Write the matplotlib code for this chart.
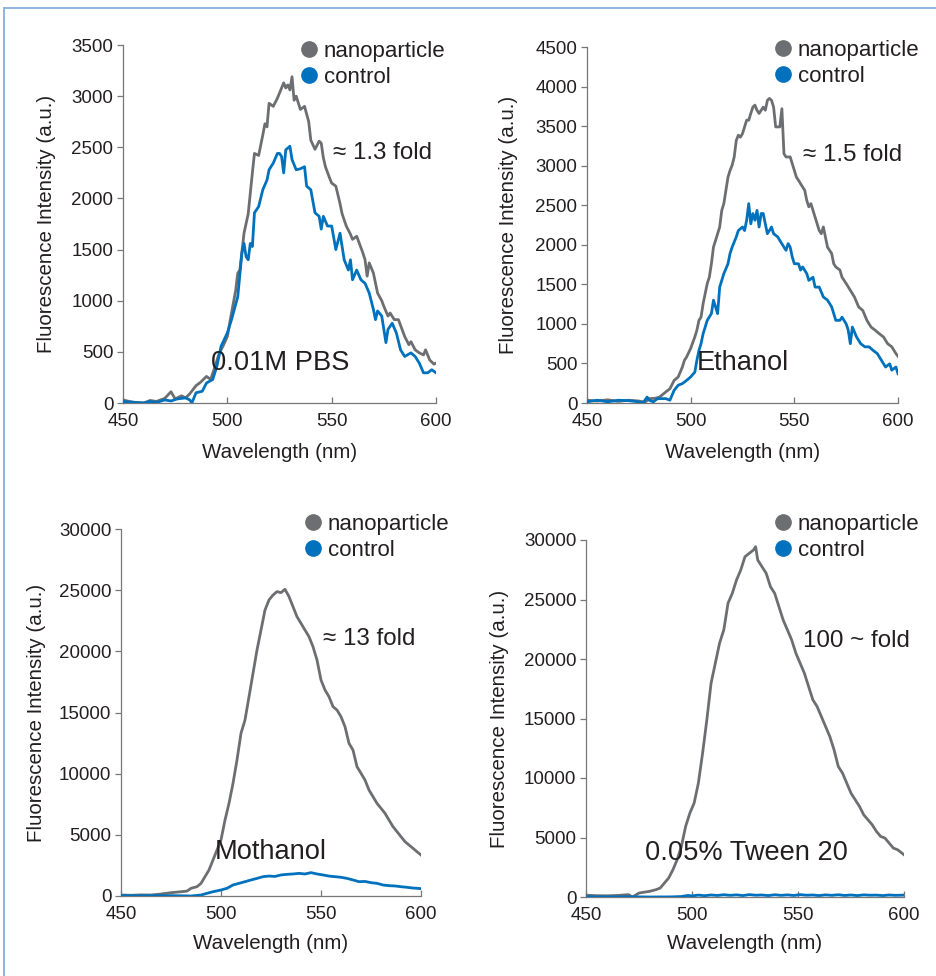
import matplotlib
matplotlib.use("Agg")
import matplotlib.pyplot as plt
from matplotlib.lines import Line2D

plt.rcParams['font.family'] = ['Liberation Sans', 'DejaVu Sans']

# ---------------- data ----------------
# Panel 1: 0.01M PBS
wl_np1 = [450, 453, 456, 460, 463, 466, 470, 473, 475, 478, 480, 482, 485, 487, 490, 492, 494, 496, 498,
          500, 502, 504, 505, 506, 508, 510, 512, 513, 515, 517, 518, 519, 520, 522, 524, 525, 527, 528,
          529, 530, 531, 532, 533, 535, 537, 539, 540, 542, 544, 545, 546, 547, 549, 550, 552, 554, 555,
          557, 559, 560, 562, 564, 565, 566, 567, 568, 570, 572, 574, 575, 577, 578, 580, 582, 583, 585,
          587, 588, 590, 592, 594, 595, 597, 599, 600]
np1 = [30, 15, 5, 0, 25, 15, 45, 110, 40, 70, 50, 90, 170, 200, 260, 230, 350, 480, 560,
       650, 880, 1100, 1270, 1300, 1660, 1850, 2250, 2440, 2420, 2620, 2730, 2700, 2930, 2900, 2980, 3030, 3130, 3080,
       3110, 3060, 3190, 2960, 3000, 2870, 2900, 2750, 2570, 2480, 2560, 2540, 2400, 2310, 2200, 2150, 2120, 1950, 1850,
       1730, 1650, 1600, 1630, 1520, 1465, 1400, 1240, 1370, 1270, 1075, 1000, 945, 850, 880, 815, 815, 760, 650,
       570, 600, 520, 490, 470, 520, 420, 380, 390]
wl_ct1 = [450, 453, 456, 460, 463, 466, 470, 473, 476, 480, 482, 483, 485, 488, 490, 493, 495, 497,
          500, 502, 505, 507, 508, 509, 510, 511, 512, 513, 515, 517, 519, 520, 522, 524, 525, 526, 527,
          528, 530, 531, 533, 535, 537, 538, 540, 542, 544, 545, 546, 548, 550, 552, 554, 556, 558, 559,
          560, 562, 564, 566, 568, 570, 571, 572, 574, 575, 576, 577, 579, 581, 583, 585, 588, 590, 592,
          594, 596, 598, 600]
ct1 = [15, 10, 5, 0, 15, 5, 30, 20, 40, 50, 30, 0, 100, 115, 195, 230, 360, 555,
       685, 815, 1040, 1470, 1560, 1430, 1400, 1560, 1530, 1860, 1920, 2085, 2180, 2280, 2345, 2440, 2440, 2410, 2250,
       2475, 2510, 2380, 2280, 2290, 2310, 2120, 2085, 1860, 1825, 1700, 1825, 1730, 1730, 1500, 1660, 1400, 1300, 1400,
       1205, 1300, 1205, 1170, 1075, 915, 815, 900, 850, 720, 590, 720, 780, 685, 520, 455, 490, 455, 390,
       295, 295, 325, 295]

# Panel 2: Ethanol
wl_np2 = [450, 455, 460, 465, 470, 475, 478, 480, 483, 485, 488, 490, 492, 494, 496, 497, 498, 500, 502,
          503, 504, 505, 506, 508, 509, 510, 511, 512, 513, 514, 515, 516, 518, 519, 520, 521, 522, 523,
          524, 525, 526, 527, 528, 529, 530, 531, 532, 533, 534, 535, 536, 537, 538, 539, 540, 541, 543,
          544, 545, 546, 548, 549, 550, 551, 552, 554, 555, 556, 557, 558, 560, 562, 563, 564, 566, 568,
          569, 570, 572, 573, 575, 577, 579, 581, 583, 585, 587, 589, 591, 593, 595, 597, 599, 600]
np2 = [35, 25, 40, 20, 35, 25, 10, 55, 60, 75, 140, 180, 285, 330, 455, 540, 580, 690, 835,
       920, 1045, 1085, 1255, 1510, 1590, 1760, 1970, 2055, 2140, 2225, 2435, 2520, 2855, 2940, 3005, 3110, 3320, 3385,
       3360, 3405, 3490, 3575, 3575, 3660, 3740, 3765, 3700, 3660, 3700, 3740, 3700, 3825, 3850, 3825, 3740, 3490, 3490,
       3720, 3150, 3110, 3110, 3025, 2940, 2855, 2815, 2730, 2690, 2560, 2480, 2520, 2350, 2180, 2140, 2225, 1970, 1890,
       1760, 1720, 1680, 1590, 1510, 1425, 1340, 1215, 1170, 1045, 960, 920, 875, 835, 750, 710, 625, 590]
wl_ct2 = [450, 455, 460, 465, 470, 475, 477, 479, 480, 482, 484, 486, 488, 490, 492, 494, 496, 498,
          500, 502, 503, 504, 505, 506, 508, 510, 511, 512, 513, 514, 516, 518, 519, 520, 522, 523, 525,
          526, 527, 528, 529, 530, 531, 532, 533, 534, 535, 536, 537, 538, 539, 540, 542, 543, 545, 546,
          547, 548, 549, 550, 552, 553, 554, 556, 557, 559, 560, 562, 564, 566, 568, 570, 572, 573, 575,
          576, 577, 578, 580, 582, 584, 586, 588, 590, 592, 594, 596, 597, 599, 600]
ct2 = [15, 35, 15, 35, 30, 15, 0, 75, 35, 15, 55, 55, 55, 35, 160, 225, 245, 285,
       330, 390, 540, 665, 750, 875, 1045, 1130, 1300, 1215, 1130, 1465, 1635, 1760, 1890, 1970, 2100, 2180, 2225,
       2180, 2310, 2520, 2265, 2395, 2310, 2435, 2225, 2395, 2395, 2265, 2140, 2180, 2225, 2140, 2100, 2055, 1970, 1930,
       2015, 1970, 1845, 1760, 1760, 1680, 1720, 1635, 1550, 1590, 1465, 1465, 1340, 1300, 1215, 1045, 1045, 1085, 1000,
       920, 750, 960, 835, 750, 710, 710, 665, 625, 540, 455, 495, 415, 455, 370]

# Panel 3: Mothanol
wl_np3 = [450, 455, 460, 465, 470, 475, 480, 483, 485, 488, 490, 492, 494, 496, 498, 500, 502, 504, 506,
          508, 510, 512, 514, 516, 518, 520, 522, 524, 526, 528, 530, 532, 534, 536, 538, 540, 542, 544,
          546, 548, 550, 552, 554, 556, 558, 560, 562, 564, 566, 568, 570, 572, 574, 576, 578, 580, 582,
          584, 586, 588, 590, 592, 594, 596, 598, 600]
np3 = [80, 60, 90, 80, 160, 270, 350, 400, 630, 760, 1035, 1580, 2125, 2940, 3760, 4580, 6210, 7575, 9210,
       11120, 13300, 14390, 16290, 18200, 20110, 21740, 23380, 24200, 24600, 24880, 24800, 25070, 24470, 23650, 22830, 22290, 21740, 21200,
       20380, 19290, 17660, 16840, 16290, 15480, 15200, 14660, 13840, 12480, 11930, 10570, 10030, 9480, 8660, 8120, 7575, 7170, 6760,
       6210, 5670, 5260, 4850, 4440, 4170, 3900, 3620, 3350]
wl_ct3 = [450, 460, 470, 480, 485, 490, 493, 496, 500, 503, 506, 509, 512, 515, 518, 521, 524, 527, 530,
          533, 536, 539, 542, 545, 548, 551, 554, 557, 560, 563, 566, 569, 572, 575, 578, 581, 584, 587,
          590, 593, 596, 598, 600]
ct3 = [30, 20, 30, 20, 0, 80, 220, 350, 490, 630, 900, 1035, 1170, 1310, 1440, 1580, 1630, 1600, 1720,
       1770, 1800, 1850, 1800, 1910, 1800, 1720, 1630, 1580, 1530, 1440, 1310, 1170, 1190, 1090, 1035, 900, 845, 820,
       760, 710, 650, 630, 600]

# Panel 4: 0.05% Tween 20
wl_np4 = [450, 455, 460, 465, 470, 472, 475, 480, 483, 485, 487, 489, 491, 493, 495, 497, 499, 501, 503,
          505, 507, 509, 511, 513, 515, 517, 519, 521, 523, 525, 527, 529, 530, 531, 533, 535, 537, 539,
          541, 543, 545, 547, 549, 551, 553, 555, 557, 559, 561, 563, 565, 567, 569, 571, 573, 575, 577,
          579, 581, 583, 585, 587, 589, 591, 593, 595, 597, 599, 600]
np4 = [150, 110, 100, 130, 200, 0, 335, 475, 615, 755, 1175, 1595, 2295, 3135, 4255, 5935, 7050, 7890, 9570,
       12090, 14890, 17970, 19650, 21330, 22450, 24690, 25520, 26640, 27480, 28600, 28880, 29160, 29440, 28320, 27760, 27200, 26080, 25520,
       24400, 23280, 22450, 21610, 20490, 19650, 18810, 17690, 16570, 16010, 15170, 14330, 13490, 12370, 10970, 10410, 9570, 8730, 8170,
       7610, 6910, 6490, 6070, 5510, 5090, 4950, 4530, 4110, 3970, 3690, 3550]
wl_ct4 = [450, 460, 470, 480, 490, 495, 498, 500, 503, 506, 509, 512, 515, 518, 521, 524, 527, 530, 533,
          536, 539, 542, 545, 548, 551, 554, 557, 560, 563, 566, 569, 572, 575, 578, 581, 584, 587, 590,
          593, 596, 600]
ct4 = [20, 10, 20, 0, 10, 40, 130, 90, 160, 110, 170, 130, 190, 140, 180, 120, 200, 150, 170,
       120, 190, 140, 180, 130, 200, 150, 170, 120, 180, 140, 190, 130, 170, 120, 180, 150, 160, 120,
       170, 140, 160]

panel_titles = ["0.01M PBS", "Ethanol", "Mothanol", "0.05% Tween 20"]
fold_labels = ["\u2248 1.3 fold", "\u2248 1.5 fold", "\u2248 13 fold", "100 ~ fold"]
ymax = [3500, 4500, 30000, 30000]
ystep = [500, 500, 5000, 5000]
series_names = ["nanoparticle", "control"]
xticks = [450, 500, 550, 600]

# ---------------- styling ----------------
W, H = 937, 976
GRAY = "#6d6e71"
BLUE = "#0071bc"
TXT = "#231f20"

fig = plt.figure(figsize=(W / 100, H / 100), dpi=100)

# frame
fig.add_artist(Line2D([4 / W, 4 / W], [0, 1 - 8 / H], color="#8db3df", lw=1.4, transform=fig.transFigure))
fig.add_artist(Line2D([4 / W, 1], [1 - 8 / H, 1 - 8 / H], color="#8db3df", lw=1.4, transform=fig.transFigure))

# axes boxes in pixels: left, top, right, bottom
boxes = [(123, 45, 436, 403), (587, 47, 898, 403), (121, 529, 421, 896), (586, 540, 904, 897)]
legend_pos = [(309, 54), (783, 53), (313, 527), (783, 527)]
fold_pos = [(333, 153), (803, 155), (323, 639), (803, 641)]
title_pos = [(211, 363), (697, 363), (215, 852), (645, 853)]
ylabel_x = [45, 507, 35, 498]
xlabel_y = [454, 454, 945, 945]

data = [(wl_np1, np1, wl_ct1, ct1), (wl_np2, np2, wl_ct2, ct2),
        (wl_np3, np3, wl_ct3, ct3), (wl_np4, np4, wl_ct4, ct4)]

for i in range(4):
    l, t, r, b = boxes[i]
    ax = fig.add_axes([l / W, 1 - b / H, (r - l) / W, (b - t) / H])
    wn, yn, wc, yc = data[i]
    ax.plot(wn, yn, color=GRAY, lw=2.0, solid_joinstyle="round", zorder=3)
    ax.plot(wc, yc, color=BLUE, lw=2.0, solid_joinstyle="round", zorder=4)
    ax.set_xlim(450, 600)
    ax.set_ylim(0, ymax[i])
    ax.set_xticks(xticks)
    ax.set_yticks(list(range(0, ymax[i] + 1, ystep[i])))
    for s in ["top", "right"]:
        ax.spines[s].set_visible(False)
    for s in ["left", "bottom"]:
        ax.spines[s].set_color("#777777")
        ax.spines[s].set_linewidth(0.9)
    ax.tick_params(axis="x", direction="in", length=4, width=0.9, color="#777777",
                   labelsize=13.5, labelcolor=TXT, pad=7)
    ax.tick_params(axis="y", direction="out", length=4, width=0.9, color="#777777",
                   labelsize=13.5, labelcolor=TXT, pad=3)
    ax.patch.set_alpha(0)
    ax.set_xlabel("Wavelength (nm)", fontsize=14.8, color=TXT)
    ax.set_ylabel("Fluorescence Intensity (a.u.)", fontsize=14.8, color=TXT)
    xc = (l + r) / 2
    ax.xaxis.set_label_coords((xc - l) / (r - l), -(xlabel_y[i] - 11 - b) / (b - t))
    ax.yaxis.set_label_coords((ylabel_x[i] + 11 - l) / (r - l), 0.5)

    handles = [Line2D([], [], ls="", marker="o", markersize=11, color=GRAY),
               Line2D([], [], ls="", marker="o", markersize=11, color=BLUE)]
    mx, my = legend_pos[i]
    leg = fig.legend(handles, series_names, loc="upper left",
                     bbox_to_anchor=((mx - 9) / W, 1 - (my - 13) / H),
                     bbox_transform=fig.transFigure, frameon=False, fontsize=16,
                     handlelength=0.8, handletextpad=0.27, labelspacing=0.22,
                     borderpad=0, borderaxespad=0)
    for txt in leg.get_texts():
        txt.set_color(TXT)

    fx, fy = fold_pos[i]
    fig.text(fx / W, 1 - fy / H, fold_labels[i], fontsize=17.4, color=TXT, ha="left", va="center")
    tx, ty = title_pos[i]
    fig.text(tx / W, 1 - ty / H, panel_titles[i], fontsize=19.6, color=TXT, ha="left", va="center")

fig.savefig("out.png", dpi=100, facecolor="white")
